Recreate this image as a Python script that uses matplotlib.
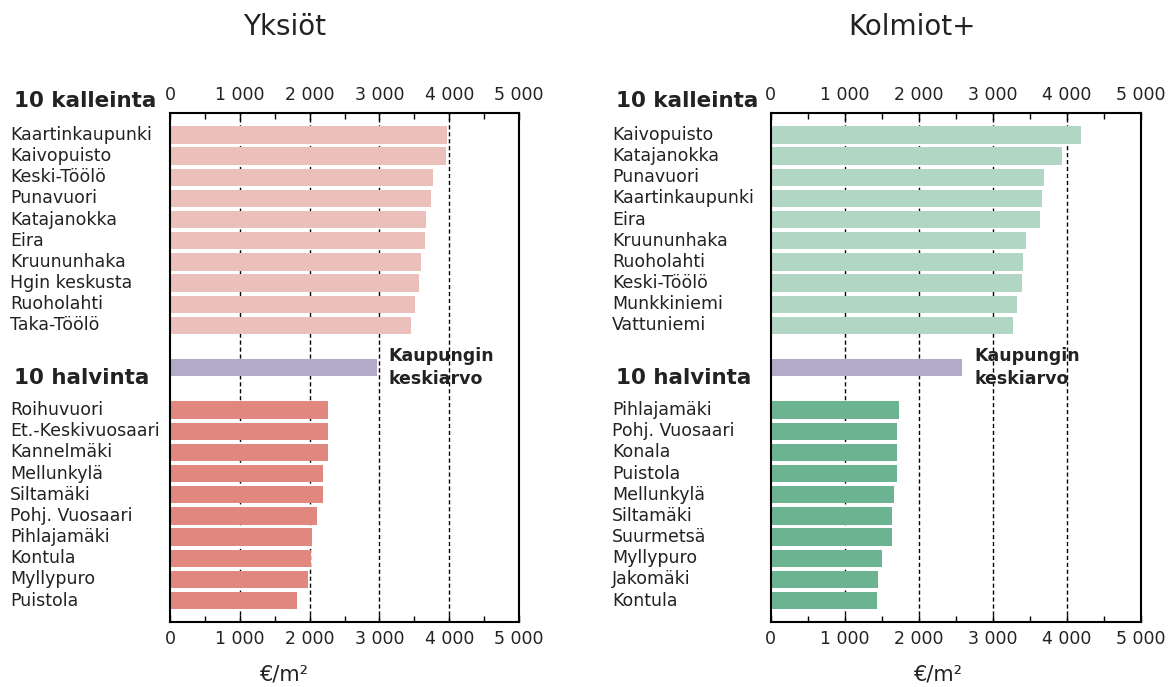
import matplotlib.pyplot as plt
from matplotlib import transforms
from matplotlib.ticker import MultipleLocator, FuncFormatter

# Data (€/m2)
yksiot_top_names = ["Kaartinkaupunki", "Kaivopuisto", "Keski-Töölö", "Punavuori", "Katajanokka",
                    "Eira", "Kruununhaka", "Hgin keskusta", "Ruoholahti", "Taka-Töölö"]
yksiot_top_vals = [3970, 3955, 3765, 3745, 3670, 3655, 3590, 3570, 3510, 3450]
yksiot_low_names = ["Roihuvuori", "Et.-Keskivuosaari", "Kannelmäki", "Mellunkylä", "Siltamäki",
                    "Pohj. Vuosaari", "Pihlajamäki", "Kontula", "Myllypuro", "Puistola"]
yksiot_low_vals = [2260, 2260, 2260, 2185, 2185, 2110, 2040, 2015, 1975, 1820]
yksiot_avg = 2960

kolmiot_top_names = ["Kaivopuisto", "Katajanokka", "Punavuori", "Kaartinkaupunki", "Eira",
                     "Kruununhaka", "Ruoholahti", "Keski-Töölö", "Munkkiniemi", "Vattuniemi"]
kolmiot_top_vals = [4190, 3930, 3690, 3660, 3635, 3445, 3405, 3390, 3330, 3270]
kolmiot_low_names = ["Pihlajamäki", "Pohj. Vuosaari", "Konala", "Puistola", "Mellunkylä",
                     "Siltamäki", "Suurmetsä", "Myllypuro", "Jakomäki", "Kontula"]
kolmiot_low_vals = [1730, 1710, 1710, 1700, 1665, 1640, 1635, 1500, 1455, 1440]
kolmiot_avg = 2580

plt.rcParams['font.family'] = ['DejaVu Sans']

fig = plt.figure(figsize=(11.74, 6.87), dpi=100)

panels = [
    dict(rect=[0.1448, 0.095, 0.2973, 0.741], title="Yksiöt", title_x=285 / 1174,
         unit_x=285 / 1174, name_x=10 / 1174,
         top=(yksiot_top_names, yksiot_top_vals, "#ecc0ba"),
         low=(yksiot_low_names, yksiot_low_vals, "#e0877f"),
         avg=yksiot_avg),
    dict(rect=[0.6565, 0.095, 0.3152, 0.741], title="Kolmiot+", title_x=912 / 1174,
         unit_x=939 / 1174, name_x=612 / 1174,
         top=(kolmiot_top_names, kolmiot_top_vals, "#b2d6c4"),
         low=(kolmiot_low_names, kolmiot_low_vals, "#6bb391"),
         avg=kolmiot_avg),
]

fmt = FuncFormatter(lambda v, p: f"{int(v):,}".replace(",", " "))

for pn in panels:
    ax = fig.add_axes(pn["rect"])
    top_names, top_vals, top_col = pn["top"]
    low_names, low_vals, low_col = pn["low"]
    top_y = list(range(10))
    low_y = [13 + i for i in range(10)]

    ax.barh(top_y, top_vals, height=0.82, color=top_col, zorder=2)
    ax.barh([11], [pn["avg"]], height=0.82, color="#b3a9c8", zorder=2)
    ax.barh(low_y, low_vals, height=0.82, color=low_col, zorder=2)

    for v in [1000, 2000, 3000, 4000]:
        ax.axvline(v, color="black", linestyle=(0, (3, 2)), linewidth=1, zorder=1)

    ax.set_xlim(0, 5000)
    ax.set_ylim(23, -1.05)
    ax.set_yticks([])
    ax.xaxis.set_major_locator(MultipleLocator(1000))
    ax.xaxis.set_minor_locator(MultipleLocator(500))
    ax.xaxis.set_major_formatter(fmt)
    ax.tick_params(axis="x", which="both", direction="in", top=True, bottom=True,
                   labeltop=True, labelbottom=True, labelsize=12.5, labelcolor="#222222", pad=6)
    ax.tick_params(axis="x", which="major", length=5, width=1)
    ax.tick_params(axis="x", which="minor", length=4, width=1)
    for s in ax.spines.values():
        s.set_linewidth(1.5)

    ax.text(pn["avg"] + 170, 11.0, "Kaupungin\nkeskiarvo", fontsize=12.5, fontweight="bold",
            color="#222222", va="center", ha="left", linespacing=1.35)

    trans = transforms.blended_transform_factory(fig.transFigure, ax.transData)
    for y, name in zip(top_y, top_names):
        ax.text(pn["name_x"], y, name, transform=trans, fontsize=12.5, va="center", ha="left",
                color="#222222")
    for y, name in zip(low_y, low_names):
        ax.text(pn["name_x"], y, name, transform=trans, fontsize=12.5, va="center", ha="left",
                color="#222222")
    ax.text(pn["name_x"] + 4 / 1174, -1.6, "10 kalleinta", transform=trans, fontsize=15.5,
            fontweight="bold", va="center", ha="left", color="#222222")
    ax.text(pn["name_x"] + 4 / 1174, 11.5, "10 halvinta", transform=trans, fontsize=15.5,
            fontweight="bold", va="center", ha="left", color="#222222")

    fig.text(pn["title_x"], 1 - 27 / 687, pn["title"], fontsize=20, ha="center", va="center",
             color="#222222")
    fig.text(pn["unit_x"], 1 - 674 / 687, "€/m²", fontsize=15, ha="center", va="center",
             color="#222222")

fig.savefig("out.png", dpi=100)
